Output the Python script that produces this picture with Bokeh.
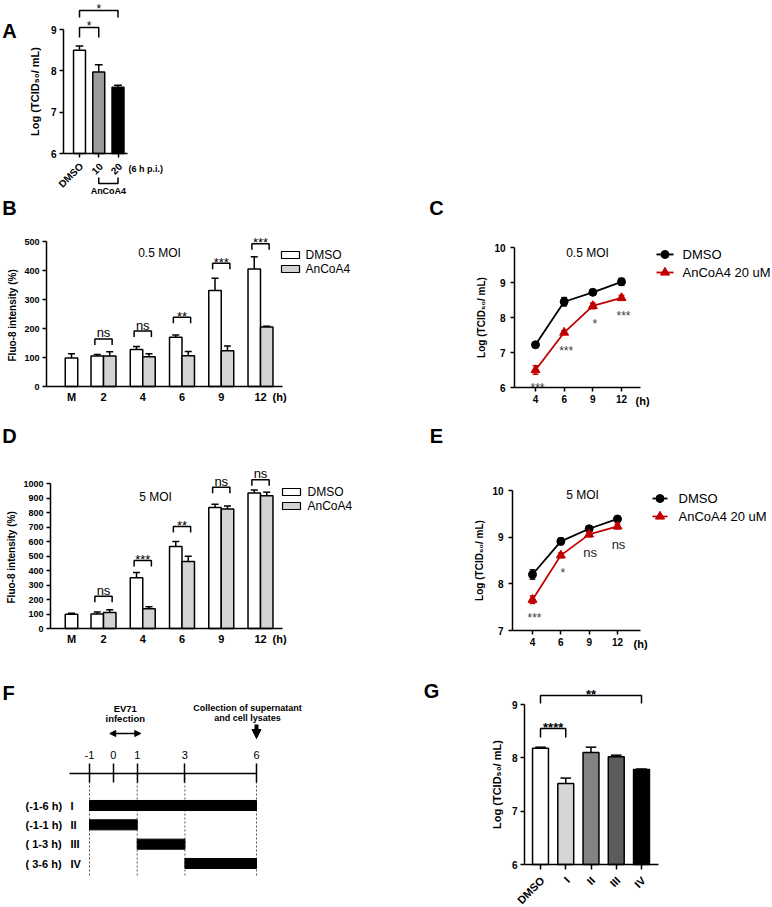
import math
from bokeh.plotting import figure
from bokeh.models import Range1d, LinearAxis, FixedTicker, Arrow, NormalHead
from bokeh.core.properties import value
from bokeh.embed import file_html
from bokeh.resources import INLINE

W, H = 772, 907
FONT = "Liberation Sans"
RED = "#c00000"
STAR = "#3c3c3c"
TITRE = "Log (TCID\u2085\u2080/ mL)"
FLUO = "Fluo-8 intensity  (%)"

# ---------------- data ----------------
# (A) virus titre at 6 h p.i.
a_labels = ["DMSO", "10", "20"]
a_mean = [8.50, 7.97, 7.60]
a_sd = [0.10, 0.18, 0.05]
a_fill = ["white", "#9b9b9b", "black"]
a_sig = ["*", "*"]
a_pairs = [(0, 1), (0, 2)]
a_sig_y = [9.05, 9.46]

# (B) Fluo-8 intensity, 0.5 MOI
fl_labels = ["M", "2", "4", "6", "9", "12"]
b_dmso = [98, 105, 128, 170, 331, 405]
b_dmso_sd = [15, 5, 10, 8, 42, 42]
b_anc = [105, 103, 106, 123, 205]
b_anc_sd = [15, 10, 15, 17, 3]
b_sig = ["ns", "ns", "**", "***", "***"]
b_sig_y = [164, 191, 239, 425, 492]

# (C) virus titre, 0.5 MOI
ti_labels = ["4", "6", "9", "12"]
c_dmso = [7.22, 8.45, 8.72, 9.02]
c_dmso_sd = [0.05, 0.12, 0.05, 0.10]
c_anc = [6.50, 7.57, 8.33, 8.56]
c_anc_sd = [0.12, 0.05, 0.08, 0.07]
c_sig = ["***", "***", "*", "***"]

# (D) Fluo-8 intensity, 5 MOI
d_dmso = [98, 100, 350, 565, 835, 935]
d_dmso_sd = [8, 13, 37, 35, 22, 20]
d_anc = [110, 137, 462, 825, 915]
d_anc_sd = [20, 13, 37, 20, 25]
d_sig = ["ns", "***", "**", "ns", "ns"]
d_sig_y = [222, 469, 703, 974, 1026]

# (E) virus titre, 5 MOI
e_dmso = [8.20, 8.91, 9.18, 9.39]
e_dmso_sd = [0.10, 0.07, 0.05, 0.03]
e_anc = [7.66, 8.61, 9.06, 9.23]
e_anc_sd = [0.08, 0.05, 0.05, 0.05]
e_sig = ["***", "*", "ns", "ns"]

# (F) time-of-addition scheme (hours)
f_ticks = [-1, 0, 1, 3, 6]
f_period = ["(-1-6 h)", "(-1-1 h)", "( 1-3 h)", "( 3-6 h)"]
f_roman = ["I", "II", "III", "IV"]
f_start = [-1, -1, 1, 3]
f_end = [6, 1, 3, 6]
f_infection = [0, 1]
f_harvest = 6

# (G) virus titre after time-of-addition
g_labels = ["DMSO", "I", "II", "III", "IV"]
g_mean = [8.18, 7.52, 8.10, 8.02, 7.78]
g_sd = [0.02, 0.10, 0.10, 0.03, 0.01]
g_fill = ["white", "#d6d6d6", "#838383", "#5c5c5c", "black"]
g_sig = ["****", "**"]
g_pairs = [(0, 1), (0, 4)]
g_sig_y = [8.55, 9.17]

# ---------------- page ----------------
p = figure(width=W, height=H, x_range=Range1d(0, W), y_range=Range1d(H, 0),
           output_backend="svg", toolbar_location=None, title=None,
           x_axis_location=None, y_axis_location=None, min_border=0,
           outline_line_color=None, background_fill_color="white",
           border_fill_color="white")
for g in p.grid:
    g.visible = False


def scale(name, xa, xb, ya, yb):
    """Linear panel coordinates from two (page pixel, value) anchors per axis.
    Returns range names, pixel->value maps and the value size of one pixel."""
    kx = (xb[1] - xa[1]) / (xb[0] - xa[0])
    ky = (yb[1] - ya[1]) / (yb[0] - ya[0])

    def fx(px):
        return xa[1] + (px - xa[0]) * kx

    def fy(py):
        return ya[1] + (py - ya[0]) * ky

    p.extra_x_ranges[name] = Range1d(fx(0), fx(W))
    p.extra_y_ranges[name] = Range1d(fy(H), fy(0))
    return dict(x_range_name=name, y_range_name=name), fx, fy, abs(ky)


def text(x, y, s, rn=None, size="12px", style="normal", color="black",
         align="center", baseline="middle", angle=0.0, dx=0, dy=0):
    p.text(x=list(x), y=list(y), text=list(s), text_font=value(FONT),
           text_font_size=size, text_font_style=style, text_color=color,
           text_align=align, text_baseline=baseline, angle=angle,
           x_offset=dx, y_offset=dy, **(rn or {}))


def add_axis(side, rn, loc, bounds, ticks, labels=None, title=None,
             tick_size="10px", tick_style="bold", title_size="11px",
             tick_out=4, tick_in=0, standoff=3, title_standoff=5,
             line_width=1.5):
    ax = LinearAxis(fixed_location=loc, bounds=bounds,
                    ticker=FixedTicker(ticks=list(ticks)), axis_label=title, **rn)
    if labels is not None:
        ax.major_label_overrides = {t: s for t, s in zip(ticks, labels)}
    ax.axis_line_color = "black"
    ax.axis_line_width = line_width
    ax.major_tick_line_color = "black" if (tick_out or tick_in) else None
    ax.major_tick_line_width = line_width
    ax.major_tick_out = tick_out
    ax.major_tick_in = tick_in
    ax.minor_tick_line_color = None
    ax.major_label_text_font = FONT
    ax.major_label_text_font_style = tick_style
    ax.major_label_text_font_size = tick_size
    ax.major_label_text_color = "black"
    ax.major_label_standoff = standoff
    ax.axis_label_text_font = FONT
    ax.axis_label_text_font_style = "bold"
    ax.axis_label_text_font_size = title_size
    ax.axis_label_text_color = "black"
    ax.axis_label_standoff = title_standoff
    p.add_layout(ax, side)
    return ax


def slanted_labels(rn, x, base, labels, size, dx, dy):
    # 45 degree category labels that end just under their tick
    text(x, [base] * len(x), labels, rn, size=size, style="bold", align="right",
         baseline="middle", angle=math.pi / 4, dx=dx, dy=dy)


def bars_with_sd(rn, x, top, sd, base, width, fill, cap):
    p.vbar(x=x, top=top, bottom=base, width=width, fill_color=fill,
           line_color="black", line_width=1.5, **rn)
    tip = [t + s for t, s in zip(top, sd)]
    p.segment(x0=x, y0=top, x1=x, y1=tip, line_color="black", line_width=1.5, **rn)
    p.segment(x0=[v - cap for v in x], y0=tip, x1=[v + cap for v in x], y1=tip,
              line_color="black", line_width=1.5, **rn)


def bracket(rn, x0, x1, y, leg, label, size="13px", style="normal"):
    p.line([x0, x0, x1, x1], [y - leg, y, y, y - leg], line_color="black",
           line_width=1.5, **rn)
    lift = -1 if "*" in label else -6
    text([(x0 + x1) / 2], [y], [label], rn, size=size, style=style,
         baseline="alphabetic", dy=lift)


def series(rn, x, y, sd, color, marker, size, cap):
    lo = [a - s for a, s in zip(y, sd)]
    hi = [a + s for a, s in zip(y, sd)]
    p.line(x, y, line_color=color, line_width=1.8, **rn)
    p.segment(x0=x, y0=lo, x1=x, y1=hi, line_color=color, line_width=1.5, **rn)
    for yy in (lo, hi):
        p.segment(x0=[v - cap for v in x], y0=yy, x1=[v + cap for v in x], y1=yy,
                  line_color=color, line_width=1.5, **rn)
    p.scatter(x, y, marker=marker, size=size, fill_color=color, line_color=color, **rn)


def line_legend(x0, x1, ys, colors, markers, sizes, names, tx):
    for y, c, m, s, n in zip(ys, colors, markers, sizes, names):
        p.line([x0, x1], [y, y], line_color=c, line_width=1.8)
        p.scatter([(x0 + x1) / 2], [y], marker=m, size=s, fill_color=c, line_color=c)
        text([tx], [y], [n], size="13px", align="left")


def box_legend(x0, x1, boxes, fills, names, tx):
    for (t, b), f, n in zip(boxes, fills, names):
        p.quad(left=[x0], right=[x1], top=[t], bottom=[b], fill_color=f,
               line_color="black", line_width=1.2)
        text([tx], [(t + b) / 2], [n], size="12px", align="left")


# ---------------- panel letters ----------------
for letter, (lx, ly) in {"A": (9, 30), "B": (9, 207), "C": (436, 207),
                         "D": (9, 435), "E": (436, 435), "F": (8, 692),
                         "G": (431, 690)}.items():
    text([lx], [ly], [letter], size="20px", style="bold")

# ---------------- A ----------------
rnA, fxA, fyA, uA = scale("A", (79, 0), (117.5, 2), (153, 6), (29, 9))
a_x = list(range(len(a_mean)))
bars_with_sd(rnA, a_x, a_mean, a_sd, 6, 0.62, a_fill, 0.2)
add_axis("left", rnA, fxA(63), (6, 9), [6, 7, 8, 9], title=TITRE,
         tick_size="10px", title_size="11px", standoff=3, title_standoff=7)
add_axis("below", rnA, 6, (fxA(63), fxA(127)), a_x, [""] * len(a_x), tick_out=4)
slanted_labels(rnA, a_x, 6, a_labels, "10px", 2, 11)
for lab, (i, j), y, leg_px in zip(a_sig, a_pairs, a_sig_y, [10, 7]):
    bracket(rnA, i, j, y, leg_px * uA, lab, size="12px")
p.line([1, 1, 2, 2], [fyA(177), fyA(183), fyA(183), fyA(177)], line_color="black",
       line_width=1.5, **rnA)
text([1.5], [fyA(190)], ["AnCoA4"], rnA, size="9px", style="bold")
text([fxA(128)], [fyA(168)], ["(6 h p.i.)"], rnA, size="9px", style="bold", align="left")


# ---------------- B and D (Fluo-8 bar charts) ----------------
def fluo_panel(name, y_px0, y_px1, top_val, axis_px, dmso, dmso_sd, anc, anc_sd,
               sig, sig_y, step):
    rn, fx, fy, u = scale(name, (103, 1), (260, 5), (y_px0, 0), (y_px1, top_val))
    pos = [fx(71)] + [1, 2, 3, 4, 5]
    bw = 0.318
    x_d = [pos[0]] + [v - bw / 2 for v in pos[1:]]
    x_a = [v + bw / 2 for v in pos[1:]]
    bars_with_sd(rn, x_d, dmso, dmso_sd, 0, bw, "white", 0.09)
    bars_with_sd(rn, x_a, anc, anc_sd, 0, bw, "#d3d3d3", 0.09)
    add_axis("left", rn, fx(axis_px), (0, top_val), range(0, top_val + 1, step),
             title=FLUO, tick_size="9px", title_size="10px", standoff=3,
             title_standoff=3)
    add_axis("below", rn, 0, (fx(axis_px), fx(282)), pos, fl_labels,
             tick_size="11px", tick_out=0, standoff=4)
    text([fx(272)], [fy(y_px0 + 4)], ["(h)"], rn, size="11px", style="bold",
         align="left", baseline="top")
    for g, lab, y in zip(pos[1:], sig, sig_y):
        bracket(rn, g - 0.22, g + 0.22, y, 6 * u, lab, size="13px")
    return rn, fx, fy


fluo_panel("B", 386, 241, 500, 46, b_dmso, b_dmso_sd, b_anc, b_anc_sd, b_sig, b_sig_y, 100)
box_legend(281, 299, [(251, 258), (265, 272)], ["white", "#d3d3d3"], ["DMSO", "AnCoA4"], 305)
text([159], [252], ["0.5 MOI"], size="12px")

fluo_panel("D", 628, 483, 1000, 50, d_dmso, d_dmso_sd, d_anc, d_anc_sd, d_sig, d_sig_y, 100)
box_legend(282, 300, [(488, 495), (502, 509)], ["white", "#d3d3d3"], ["DMSO", "AnCoA4"], 307)
text([155], [496], ["5 MOI"], size="12px")


# ---------------- C and E (titre kinetics) ----------------
def titre_panel(name, x_px0, x_px3, y_anchor0, y_anchor1, ylo, yhi, axis_px,
                dmso, dmso_sd, anc, anc_sd, sig):
    rn, fx, fy, u = scale(name, (x_px0, 0), (x_px3, 3), y_anchor0, y_anchor1)
    x = list(range(len(ti_labels)))
    series(rn, x, dmso, dmso_sd, "black", "circle", 8, 0.1)
    series(rn, x, anc, anc_sd, RED, "triangle", 9, 0.1)
    add_axis("left", rn, fx(axis_px), (ylo, yhi), range(ylo, yhi + 1), title=TITRE,
             tick_size="10px", title_size="10px", standoff=5, title_standoff=4)
    add_axis("below", rn, ylo, (fx(axis_px), fx(640)), x, ti_labels,
             tick_size="10px", tick_out=4, standoff=3)
    stars = [(i, v, s) for i, (v, s) in enumerate(zip(anc, sig)) if "*" in s]
    nss = [(i, v, s) for i, (v, s) in enumerate(zip(anc, sig)) if "*" not in s]
    if stars:
        text([t[0] for t in stars], [t[1] for t in stars], [t[2] for t in stars], rn,
             size="12px", color=STAR, baseline="alphabetic", dx=2, dy=18)
    if nss:
        text([t[0] for t in nss], [t[1] for t in nss], [t[2] for t in nss], rn,
             size="13px", color="#222222", baseline="alphabetic", dx=1, dy=18)
    return rn, fx, fy


rnC, fxC, fyC = titre_panel("C", 535, 621, (387, 6), (247, 10), 6, 10, 514,
                            c_dmso, c_dmso_sd, c_anc, c_anc_sd, c_sig)
text([fxC(635)], [6], ["(h)"], rnC, size="11px", style="bold", align="left",
     baseline="top", dy=7)
line_legend(656, 673, [254, 272], ["black", RED], ["circle", "triangle"], [8, 9],
            ["DMSO", "AnCoA4 20 uM"], 682)
text([587], [252], ["0.5 MOI"], size="12px")

rnE, fxE, fyE = titre_panel("E", 532, 617, (630, 7), (490, 10), 7, 10, 512,
                            e_dmso, e_dmso_sd, e_anc, e_anc_sd, e_sig)
text([fxE(633)], [7], ["(h)"], rnE, size="11px", style="bold", align="left",
     baseline="top", dy=7)
line_legend(652, 667, [498, 516], ["black", RED], ["circle", "triangle"], [8, 9],
            ["DMSO", "AnCoA4 20 uM"], 678)
text([582], [494], ["5 MOI"], size="12px")

# ---------------- F (time-of-addition scheme) ----------------
rnF, fxF, fyF, uF = scale("F", (89, -1), (256, 6), (805, 0), (863, 3))
rows = list(range(len(f_start)))
line_row = fyF(773)
add_axis("above", rnF, line_row, (fxF(69), max(f_ticks)), f_ticks,
         [str(t) for t in f_ticks], tick_size="11px", tick_style="normal",
         tick_out=10, tick_in=9, standoff=5, line_width=1.5)
for t in sorted(set(f_start + f_end)):
    p.segment(x0=[t], y0=[line_row], x1=[t], y1=[fyF(877)], line_color="#555555",
              line_width=1, line_dash="2 2", **rnF)
p.hbar(y=rows, left=f_start, right=f_end, height=0.52, fill_color="black",
       line_color="black", **rnF)
text([fxF(25)] * len(rows), rows, f_period, rnF, size="11px", style="bold", align="left")
text([fxF(70)] * len(rows), rows, f_roman, rnF, size="11px", style="bold", align="left")
arrow_row = fyF(733)
p.add_layout(Arrow(start=NormalHead(size=6, fill_color="black", line_color="black"),
                   end=NormalHead(size=6, fill_color="black", line_color="black"),
                   x_start=f_infection[0] - 0.15, x_end=f_infection[1] + 0.15,
                   y_start=arrow_row, y_end=arrow_row, line_width=1.5, **rnF))
inf_mid = sum(f_infection) / 2
text([inf_mid, inf_mid], [fyF(708), fyF(718)], ["EV71", "infection"], rnF,
     size="9.5px", style="bold")
p.add_layout(Arrow(end=NormalHead(size=9, fill_color="black", line_color="black"),
                   x_start=f_harvest, x_end=f_harvest, y_start=fyF(724),
                   y_end=fyF(738), line_width=4, **rnF))
text([fxF(247), fxF(247)], [fyF(707), fyF(717)],
     ["Collection of supernatant", "and cell lysates"], rnF, size="9px", style="bold")

# ---------------- G ----------------
rnG, fxG, fyG, uG = scale("G", (540, 0), (641, 4), (864, 6), (704, 9))
g_x = list(range(len(g_mean)))
bars_with_sd(rnG, g_x, g_mean, g_sd, 6, 0.63, g_fill, 0.21)
add_axis("left", rnG, fxG(524), (6, 9), [6, 7, 8, 9], title=TITRE,
         tick_size="10px", title_size="11px", standoff=3, title_standoff=6)
add_axis("below", rnG, 6, (fxG(524), fxG(658)), g_x, [""] * len(g_x), tick_out=5)
slanted_labels(rnG, g_x, 6, g_labels, "11px", 2, 14)
for lab, (i, j), y, leg_px in zip(g_sig, g_pairs, g_sig_y, [9, 8]):
    bracket(rnG, i, j, y, leg_px * uG, lab, size="13px", style="bold")

open("out.html", "w").write(file_html(p, INLINE))
